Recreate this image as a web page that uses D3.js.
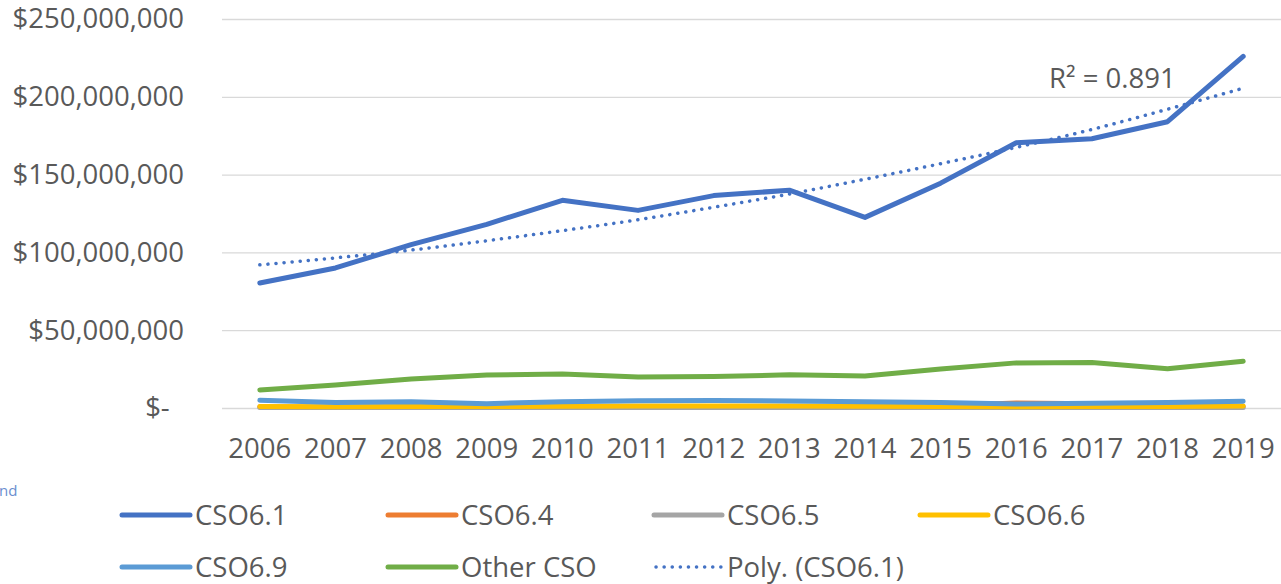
<!DOCTYPE html>
<html>
<head>
<meta charset="utf-8">
<script src="https://cdn.jsdelivr.net/npm/d3@7"></script>
<style>
  body { margin: 0; background: #fff; }
  svg text { font-family: "Open Sans", sans-serif; fill: #595959; }
</style>
</head>
<body>
<script>
// chart data
var years = ['2006','2007','2008','2009','2010','2011','2012','2013','2014','2015','2016','2017','2018','2019'];
var cso61 = [80.3e6, 90e6, 105e6, 118e6, 133.5e6, 127e6, 136.5e6, 140e6, 122.5e6, 144.5e6, 170.5e6, 173e6, 184e6, 226e6];
var cso64 = [0.6e6, 0.5e6, 0.5e6, 0.5e6, 0.6e6, 0.7e6, 0.7e6, 0.8e6, 1e6, 1.5e6, 3.2e6, 2.8e6, 1.2e6, 1e6];
var cso65 = [0.3e6, 0.3e6, 0.3e6, 0.3e6, 0.3e6, 0.3e6, 0.3e6, 0.3e6, 0.3e6, 0.3e6, 0.3e6, 0.3e6, 0.3e6, 0.3e6];
var cso66 = [0.9e6, 0.8e6, 0.9e6, 0.9e6, 1.2e6, 1.3e6, 1.3e6, 1.3e6, 1.2e6, 1e6, 0.8e6, 0.9e6, 1e6, 1.3e6];
var cso69 = [5e6, 3.6e6, 4e6, 2.8e6, 4e6, 4.6e6, 4.8e6, 4.5e6, 4e6, 3.5e6, 2.5e6, 3e6, 3.6e6, 4.3e6];
var otherCso = [11.6e6, 14.8e6, 18.6e6, 21.2e6, 21.9e6, 20e6, 20.2e6, 21.3e6, 20.6e6, 25e6, 29e6, 29.2e6, 25.2e6, 30e6];
var polyTrend = [92e6, 96.5e6, 101.5e6, 107.5e6, 114e6, 121e6, 129e6, 137.5e6, 147e6, 157e6, 167.5e6, 179e6, 192e6, 205.5e6];

var yTicks = [0, 50e6, 100e6, 150e6, 200e6, 250e6];
var yTickLabels = ['$-  ', '$50,000,000', '$100,000,000', '$150,000,000', '$200,000,000', '$250,000,000'];
var r2Label = 'R² = 0.891';

var seriesNames = ['CSO6.1', 'CSO6.4', 'CSO6.5', 'CSO6.6', 'CSO6.9', 'Other CSO', 'Poly. (CSO6.1)'];
var seriesColors = ['#4472C4', '#ED7D31', '#A5A5A5', '#FFC000', '#5B9BD5', '#70AD47', '#4472C4'];
var seriesValues = [cso61, cso64, cso65, cso66, cso69, otherCso];

var W = 1281, H = 584;
var plotLeft = 222, plotRight = 1281, plotTop = 19, plotBottom = 408;

var svg = d3.select('body').append('svg').attr('width', W).attr('height', H);

var x = d3.scaleBand().domain(years).range([plotLeft, plotRight]).padding(0);
var y = d3.scaleLinear().domain([0, 250e6]).range([plotBottom, plotTop]);
var cx = function (yr) { return x(yr) + x.bandwidth() / 2; };

// y axis with gridlines
var yAxis = svg.append('g')
    .attr('transform', 'translate(' + plotLeft + ',0)')
    .call(d3.axisLeft(y)
        .tickValues(yTicks)
        .tickSize(-(plotRight - plotLeft))
        .tickPadding(38)
        .tickFormat(function (d, i) { return yTickLabels[i]; }));
yAxis.select('.domain').remove();
yAxis.selectAll('line').attr('stroke', '#d9d9d9').attr('stroke-width', 1.3);
yAxis.selectAll('text')
    .attr('font-size', 27.5)
    .style('white-space', 'pre')
    .attr('font-family', null)
    .attr('fill', null);

// x axis
var xAxis = svg.append('g')
    .attr('transform', 'translate(0,' + plotBottom + ')')
    .call(d3.axisBottom(x).tickSize(0).tickPadding(30));
xAxis.select('.domain').remove();
xAxis.selectAll('text').attr('font-size', 27.5).attr('font-family', null).attr('fill', null);

// lines
var line = d3.line()
    .x(function (d, i) { return cx(years[i]); })
    .y(function (d) { return y(d); });

seriesValues.forEach(function (vals, k) {
    svg.append('path')
        .datum(vals)
        .attr('d', line)
        .attr('fill', 'none')
        .attr('stroke', seriesColors[k])
        .attr('stroke-width', 5)
        .attr('stroke-linecap', 'round')
        .attr('stroke-linejoin', 'round');
});

// polynomial trendline
svg.append('path')
    .datum(polyTrend)
    .attr('d', line.curve(d3.curveMonotoneX))
    .attr('fill', 'none')
    .attr('stroke', seriesColors[6])
    .attr('stroke-width', 3.5)
    .attr('stroke-linecap', 'round')
    .attr('stroke-dasharray', '0.1 8');

svg.append('text')
    .attr('x', 1049)
    .attr('y', 88)
    .attr('font-size', 27.5)
    .text(r2Label);

// legend
var legend = svg.append('g');
seriesNames.forEach(function (name, i) {
    var col = i % 4, row = Math.floor(i / 4);
    var lx = 122 + col * 266, ly = 515 + row * 52;
    var g = legend.append('g').attr('transform', 'translate(' + lx + ',' + ly + ')');
    var isTrend = i === 6;
    g.append('line')
        .attr('x1', isTrend ? 2 : 0).attr('x2', 68)
        .attr('y1', 0).attr('y2', 0)
        .attr('stroke', seriesColors[i])
        .attr('stroke-width', isTrend ? 3.5 : 5)
        .attr('stroke-linecap', 'round')
        .attr('stroke-dasharray', isTrend ? '0.1 8' : null);
    g.append('text')
        .attr('x', 73)
        .attr('y', 10)
        .attr('font-size', 27.5)
        .text(name);
});

// cropped leftover from the source screenshot
svg.append('text')
    .attr('x', -1).attr('y', 496)
    .attr('font-size', 15)
    .style('fill', '#4472C4')
    .style('opacity', 0.8)
    .text('nd');
</script>
</body>
</html>
